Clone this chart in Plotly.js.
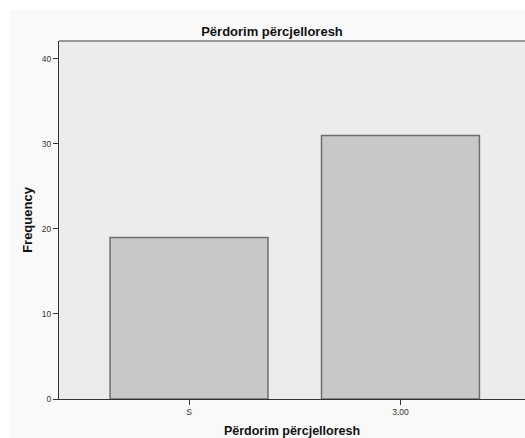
<!DOCTYPE html>
<html>
<head>
<meta charset="utf-8">
<script src="https://cdn.plot.ly/plotly-3.0.1.min.js"></script>
<style>html,body{margin:0;padding:0;background:#fff;overflow:hidden;}#chart{width:525px;height:438px;}</style>
</head>
<body>
<div id="chart"></div>
<script>
var categories = ["S", "3.00"];
var frequencies = [19, 31];
var yTickValues = [0, 10, 20, 30, 40];
var chartTitle = "Përdorim përcjelloresh";
var xTitle = "Përdorim përcjelloresh";
var yTitle = "Frequency";

var font = "'Liberation Sans', Arial, sans-serif";
var W = 525, H = 438, L = 59, R = 0, T = 41, B = 39;
var pw = W - L - R, ph = H - T - B;
function px(p) { return (p - L) / pw; }
function py(q) { return (H - B - q) / ph; }

var trace = {
  type: "bar",
  x: categories,
  y: frequencies,
  marker: { color: "#c8c8c8", line: { color: "#6e6e6e", width: 1.5 } },
  hoverinfo: "x+y"
};

var layout = {
  width: W, height: H,
  margin: { l: L, r: R, t: T, b: B, pad: 0 },
  paper_bgcolor: "#f9f9f9",
  plot_bgcolor: "#ececec",
  showlegend: false,
  bargap: 0.253,
  font: { family: font, color: "#222" },
  title: {
    text: chartTitle,
    font: { family: font, size: 13, color: "#111", weight: "bold" },
    xref: "container", x: 272 / W, xanchor: "center",
    yref: "container", y: 1 - 31 / H, yanchor: "middle"
  },
  xaxis: {
    type: "category",
    range: [-0.615, 1.589],
    showgrid: false, zeroline: false,
    showline: true, linecolor: "#333", linewidth: 1,
    ticks: "outside", ticklen: 5, tickcolor: "#333", tickwidth: 1,
    tickfont: { family: font, size: 8.5, color: "#333" },
    title: { text: xTitle, font: { family: font, size: 12.5, color: "#111", weight: "bold" }, standoff: 10 },
    fixedrange: true
  },
  yaxis: {
    range: [0, 42.1],
    tickvals: yTickValues,
    showgrid: false, zeroline: false,
    showline: true, linecolor: "#333", linewidth: 1,
    ticks: "outside", ticklen: 5, tickcolor: "#333", tickwidth: 1,
    tickfont: { family: font, size: 8.5, color: "#333" },
    title: { text: yTitle, font: { family: font, size: 13, color: "#111", weight: "bold" }, standoff: 6 },
    fixedrange: true
  },
  shapes: [
    { type: "rect", xref: "paper", yref: "paper", x0: px(0), x1: px(10), y0: py(H), y1: py(0),
      fillcolor: "#ffffff", line: { width: 0 }, layer: "below" },
    { type: "rect", xref: "paper", yref: "paper", x0: px(0), x1: 1, y0: py(10), y1: py(0),
      fillcolor: "#ffffff", line: { width: 0 }, layer: "below" },
    { type: "line", xref: "paper", yref: "paper", x0: 0, x1: 1, y0: 1, y1: 1,
      line: { color: "#7a7a7a", width: 1.5 } }
  ]
};

Plotly.newPlot("chart", [trace], layout, { staticPlot: true, displayModeBar: false });
</script>
</body>
</html>
